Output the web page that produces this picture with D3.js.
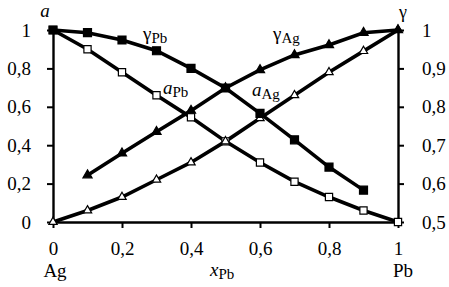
<!DOCTYPE html>
<html>
<head>
<meta charset="utf-8">
<script src="https://cdn.jsdelivr.net/npm/d3@7"></script>
<style>
  body { margin: 0; background: #fff; }
  svg text { font-family: 'Liberation Serif', 'DejaVu Serif', serif !important; fill: #000; }
</style>
</head>
<body>
<div id="chart"></div>
<script>
var xs = [0, 0.1, 0.2, 0.3, 0.4, 0.5, 0.6, 0.7, 0.8, 0.9, 1];
var aPb = [1, 0.90, 0.78, 0.66, 0.545, 0.42, 0.31, 0.21, 0.13, 0.06, 0];
var aAg = [0, 0.06, 0.13, 0.22, 0.31, 0.42, 0.54, 0.66, 0.78, 0.89, 1];
var gPbX = [0, 0.1, 0.2, 0.3, 0.4, 0.5, 0.6, 0.7, 0.8, 0.9];
var gPb = [1, 0.993, 0.974, 0.946, 0.90, 0.849, 0.783, 0.714, 0.643, 0.583];
var gAgX = [0.1, 0.2, 0.3, 0.4, 0.5, 0.6, 0.7, 0.8, 0.9, 1];
var gAg = [0.622, 0.679, 0.735, 0.79, 0.849, 0.896, 0.935, 0.961, 0.993, 1];
var xTicks = [0, 0.2, 0.4, 0.6, 0.8, 1];
var aTicks = [0, 0.2, 0.4, 0.6, 0.8, 1];
var gTicks = [0.5, 0.6, 0.7, 0.8, 0.9, 1];

function init() {
    var w = 449, h = 287;
    var svg = d3.select("#chart").append("svg")
                .attr("width", w).attr("height", h);

    var x = d3.scaleLinear().domain([0, 1]).range([53, 398]);
    var yA = d3.scaleLinear().domain([0, 1]).range([222, 30]);
    var yG = d3.scaleLinear().domain([0.5, 1]).range([222, 30]);

    var fmt = function(d) { return String(+d.toFixed(1)).replace(".", ","); };

    function styleAxis(g) {
        g.attr("font-family", null);
        g.select(".domain").attr("stroke-width", 2.4);
        g.selectAll(".tick line").attr("stroke-width", 2);
        g.selectAll("text").attr("font-size", 19);
    }

    svg.append("g").attr("transform", "translate(53,0)")
        .call(d3.axisLeft(yA).tickValues(aTicks).tickFormat(fmt).tickSize(6).tickSizeOuter(0).tickPadding(16))
        .call(styleAxis);
    svg.append("g").attr("transform", "translate(398,0)")
        .call(d3.axisRight(yG).tickValues(gTicks).tickFormat(fmt).tickSize(6).tickSizeOuter(0).tickPadding(18))
        .call(styleAxis);
    svg.append("g").attr("transform", "translate(0,222)")
        .call(d3.axisBottom(x).tickValues(xTicks).tickFormat(fmt).tickSize(6).tickSizeOuter(0).tickPadding(14))
        .call(styleAxis);

    var lineA = d3.line().x(function(d) { return x(d[0]); }).y(function(d) { return yA(d[1]); });
    var lineG = d3.line().x(function(d) { return x(d[0]); }).y(function(d) { return yG(d[1]); });

    var series = [
        {pts: d3.zip(xs, aPb), line: lineA, y: yA, sym: d3.symbolSquare, size: 52, fill: "#fff"},
        {pts: d3.zip(xs, aAg), line: lineA, y: yA, sym: d3.symbolTriangle, size: 30, fill: "#fff"},
        {pts: d3.zip(gPbX, gPb), line: lineG, y: yG, sym: d3.symbolSquare, size: 64, fill: "#000"},
        {pts: d3.zip(gAgX, gAg), line: lineG, y: yG, sym: d3.symbolTriangle, size: 36, fill: "#000"}
    ];

    series.forEach(function(s) {
        svg.append("path").attr("d", s.line(s.pts))
            .attr("fill", "none").attr("stroke", "#000").attr("stroke-width", 3.6);
    });
    series.forEach(function(s) {
        svg.selectAll(null).data(s.pts).enter().append("path")
            .attr("d", d3.symbol().type(s.sym).size(s.size))
            .attr("transform", function(d) { return "translate(" + x(d[0]) + "," + s.y(d[1]) + ")"; })
            .attr("fill", s.fill).attr("stroke", "#000").attr("stroke-width", 1.2);
    });

    // series labels
    function label(px, py, main, sub, italic) {
        var t = svg.append("text").attr("x", px).attr("y", py).attr("font-size", 19);
        t.append("tspan").text(main).attr("font-style", italic ? "italic" : null);
        t.append("tspan").text(sub).attr("font-size", 15).attr("dy", 3);
        return t;
    }
    label(143, 40, "γ", "Pb", false);
    label(273, 40, "γ", "Ag", false);
    label(163, 94, "a", "Pb", true);
    label(252, 96, "a", "Ag", true);
    label(210, 276, "x", "Pb", true);

    svg.append("text").attr("x", 45).attr("y", 17).attr("font-size", 19)
        .attr("font-style", "italic").attr("text-anchor", "middle").text("a");
    svg.append("text").attr("x", 403).attr("y", 18).attr("font-size", 18)
        .attr("text-anchor", "middle").text("γ");
    svg.append("text").attr("x", 55).attr("y", 277).attr("font-size", 19)
        .attr("text-anchor", "middle").text("Ag");
    svg.append("text").attr("x", 403).attr("y", 277).attr("font-size", 19)
        .attr("text-anchor", "middle").text("Pb");
}
window.onload = init;
</script>
</body>
</html>
